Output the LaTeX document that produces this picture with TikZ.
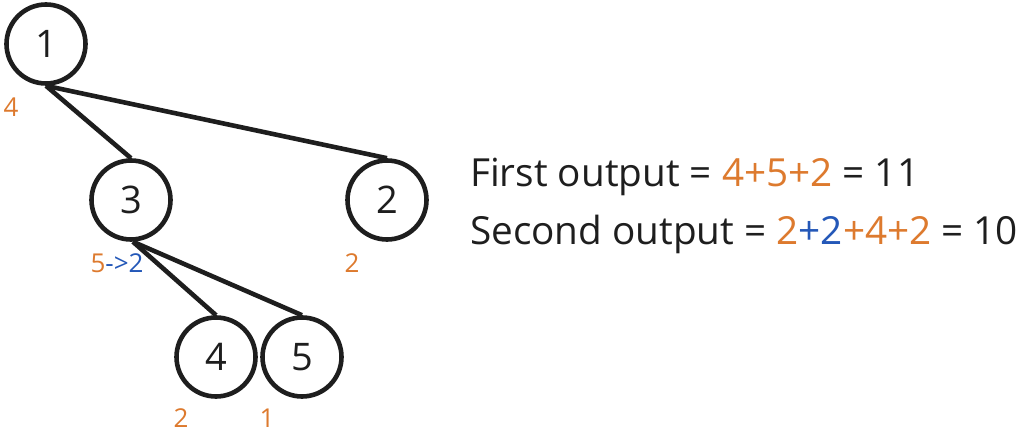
\documentclass[tikz,border=0pt]{standalone}
\usepackage{fontspec}
\setmainfont{Open Sans}
\definecolor{ink}{HTML}{1E1E1E}
\definecolor{orng}{HTML}{DD7A2E}
\definecolor{blu}{HTML}{2458B8}
\begin{document}
\begin{tikzpicture}[x=1pt,y=-1pt,
  vtx/.style={circle,draw=ink,line width=4.6pt,minimum size=79pt,inner sep=0pt,font=\fontsize{38}{42}\selectfont,text=ink},
  edge/.style={draw=ink,line width=4.6pt},
  lbl/.style={font=\fontsize{26}{30}\selectfont,text=orng,inner sep=0pt},
  eq/.style={font=\fontsize{38.7}{44}\selectfont,text=ink,anchor=west,inner sep=0pt}]
\useasboundingbox (0,0) rectangle (1024,438);
\node[vtx] (n1) at (46,44) {1};
\node[vtx] (n3) at (131,200) {3};
\node[vtx] (n2) at (387,200) {2};
\node[vtx] (n4) at (216,357) {4};
\node[vtx] (n5) at (302,357) {5};
\draw[edge] (n1.south) -- (n3.north);
\draw[edge] (n1.south) -- (n2.north);
\draw[edge] ([xshift=2pt]n3.south) -- (n4.north);
\draw[edge] ([xshift=2pt]n3.south) -- (n5.north);
\node[lbl] (l1) at (11,107) {4};
\node[lbl] (l3) at (117,263) {5\textcolor{blu}{->2}};
\node[lbl] (l2) at (352,263) {2};
\node[lbl] (l4) at (181,418) {2};
\node[lbl] (l5) at (267,418) {1};
\node[eq] (e1) at (470,177) {First output = \textcolor{orng}{4+5+2} = 11};
\node[eq] (e2) at (470,234) {Second output = \textcolor{orng}{2}\textcolor{blu}{+2}\textcolor{orng}{+4+2} = 10};
\end{tikzpicture}
\end{document}
